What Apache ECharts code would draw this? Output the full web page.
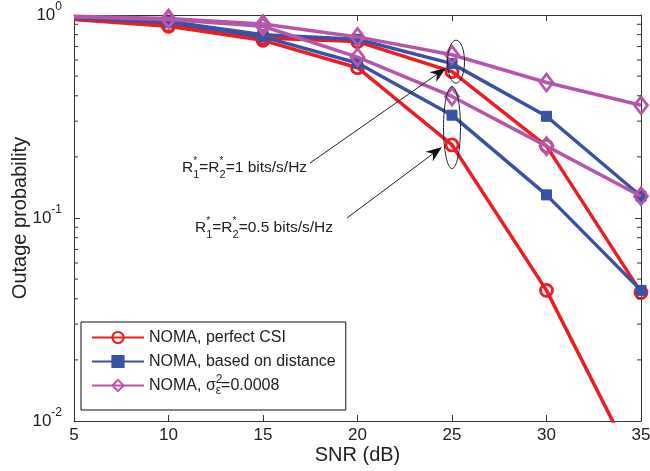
<!DOCTYPE html>
<html><head><meta charset="utf-8">
<script src="https://cdn.jsdelivr.net/npm/echarts@6/dist/echarts.min.js"></script>
<style>html,body{margin:0;padding:0;background:#fff}#c{width:650px;height:471px}</style>
</head><body><div id="c"></div>
<script>
// ---- data ----
const snr = [5, 10, 15, 20, 25, 30, 35];
const xTickInterval = 5;
const yDecadeLabels = { '1': '0', '0.1': '-1', '0.01': '-2' };
const minorTickVals = [0.02,0.03,0.04,0.05,0.06,0.07,0.08,0.09,0.2,0.3,0.4,0.5,0.6,0.7,0.8,0.9];
const legendNames = ['NOMA, perfect CSI', 'NOMA, based on distance', 'NOMA, sigma'];
// R1*=R2*=1 bits/s/Hz
const perfect_R1 = [0.955, 0.89, 0.77, 0.74, 0.526, 0.226, 0.043];
const distance_R1 = [0.975, 0.93, 0.80, 0.76, 0.576, 0.317, 0.128];
const sigma_R1 = [0.985, 0.96, 0.904, 0.78, 0.637, 0.465, 0.359];
// R1*=R2*=0.5 bits/s/Hz
const perfect_R05 = [0.95, 0.88, 0.75, 0.55, 0.229, 0.044, 0.0053];
const distance_R05 = [0.97, 0.92, 0.78, 0.58, 0.321, 0.13, 0.044];
const sigma_R05 = [0.98, 0.95, 0.88, 0.62, 0.397, 0.226, 0.128];

const RED = '#EC1C24', BLUE = '#3A52A3', PURPLE = '#B756A8';
const FONT = 'Liberation Sans, Arial, sans-serif';
const TXT = '#222';

function mk(name, vals, color, symbol, size, itemStyle, z) {
  return {
    type: 'line', name: name,
    data: snr.map((x, i) => i === 0 ? { value: [x, vals[i]], symbol: 'none' } : { value: [x, vals[i]] }),
    symbol: symbol, symbolSize: size, showAllSymbol: true,
    lineStyle: { color: color, width: 3.5 },
    itemStyle: itemStyle, z: z, clip: true, animation: false,
    emphasis: { disabled: true }
  };
}
const redStyle = { color: 'rgba(255,255,255,0)', borderColor: RED, borderWidth: 2.8 };
const blueStyle = { color: BLUE, borderColor: BLUE, borderWidth: 1 };
const purpleStyle = { color: 'rgba(255,255,255,0)', borderColor: PURPLE, borderWidth: 2.8 };

const chart = echarts.init(document.getElementById('c'), null, { renderer: 'canvas' });
const axisLine = { show: true, lineStyle: { color: '#333', width: 1 } };

const option = {
  animation: false,
  backgroundColor: '#fff',
  grid: { left: 74, right: 9, top: 15, bottom: 50, containLabel: false, outerBoundsMode: 'none' },
  xAxis: [{
    type: 'value', min: 5, max: 35, interval: xTickInterval,
    name: 'SNR (dB)', nameLocation: 'middle', nameGap: 24, nameMoveOverlap: false,
    nameTextStyle: { fontFamily: FONT, fontSize: 20, color: TXT },
    axisLine: axisLine, axisTick: { inside: true, length: 6, lineStyle: { color: '#333' } },
    axisLabel: { fontFamily: FONT, fontSize: 17, color: TXT, margin: 6 },
    splitLine: { show: false }
  }, {
    type: 'value', min: 5, max: 35, interval: xTickInterval, position: 'top',
    axisLine: axisLine, axisTick: { inside: true, length: 6, lineStyle: { color: '#333' } },
    axisLabel: { show: false }, splitLine: { show: false }
  }],
  yAxis: [{
    type: 'log', logBase: 10, min: 0.01, max: 1,
    name: 'Outage probability', nameLocation: 'middle', nameGap: 44, nameRotate: 90, nameMoveOverlap: false,
    nameTextStyle: { fontFamily: FONT, fontSize: 20, color: TXT },
    axisLine: axisLine, axisTick: { inside: true, length: 6, lineStyle: { color: '#333' } },
    axisLabel: {
      margin: 12, color: TXT,
      formatter: v => '{b|10}{s|' + yDecadeLabels[String(+v.toPrecision(3))] + '}',
      rich: {
        b: { fontFamily: FONT, fontSize: 17, color: TXT, lineHeight: 28 },
        s: { fontFamily: FONT, fontSize: 12, color: TXT, verticalAlign: 'top', lineHeight: 12 }
      }
    },
    splitLine: { show: false }
  }, {
    type: 'log', logBase: 10, min: 0.01, max: 1, position: 'right',
    axisLine: axisLine, axisTick: { inside: true, length: 6, lineStyle: { color: '#333' } },
    axisLabel: { show: false }, splitLine: { show: false }
  }],
  legend: {
    data: legendNames, orient: 'vertical', left: 81, top: 322,
    padding: [4, 10, 13, 10], itemGap: 1, itemWidth: 52, itemHeight: 14,
    borderColor: '#111', borderWidth: 1, backgroundColor: '#fff',
    selectedMode: false,
    formatter: n => n === 'NOMA, sigma' ? 'NOMA, σ{sp|2}{sb|ε}=0.0008' : n,
    textStyle: {
      fontFamily: FONT, fontSize: 16, color: TXT, lineHeight: 23,
      rich: {
        sp: { fontFamily: FONT, fontSize: 12, color: TXT, verticalAlign: 'top', lineHeight: 10, width: 0.001 },
        sb: { fontFamily: FONT, fontSize: 12, color: TXT, verticalAlign: 'bottom', lineHeight: 10, padding: [4, 0, 0, 0] }
      }
    }
  },
  series: [
    mk('NOMA, perfect CSI', perfect_R1, RED, 'circle', 12, redStyle, 3),
    mk('NOMA, perfect CSI', perfect_R05, RED, 'circle', 12, redStyle, 3),
    mk('NOMA, based on distance', distance_R1, BLUE, 'rect', 10, blueStyle, 4),
    mk('NOMA, based on distance', distance_R05, BLUE, 'rect', 10, blueStyle, 4),
    mk('NOMA, sigma', sigma_R1, PURPLE, 'diamond', [13, 17], purpleStyle, 5),
    mk('NOMA, sigma', sigma_R05, PURPLE, 'diamond', [13, 17], purpleStyle, 5),
    {
      type: 'custom', name: 'minor', silent: true, clip: false, z: 10,
      data: minorTickVals.map(v => [5, v]),
      renderItem: function (params, api) {
        const pl = api.coord([5, api.value(1)]);
        const pr = api.coord([35, api.value(1)]);
        const st = { stroke: '#333', lineWidth: 1 };
        return { type: 'group', children: [
          { type: 'line', shape: { x1: pl[0], y1: pl[1], x2: pl[0] + 4, y2: pl[1] }, style: st },
          { type: 'line', shape: { x1: pr[0] - 4, y1: pr[1], x2: pr[0], y2: pr[1] }, style: st }
        ] };
      }
    }
  ]
};
chart.setOption(option);

// ---- annotations (ellipses, arrows, labels) ----
const p25 = chart.convertToPixel({ xAxisIndex: 0, yAxisIndex: 0 }, [25, 0.589]);
const p25b = chart.convertToPixel({ xAxisIndex: 0, yAxisIndex: 0 }, [25, 0.279]);
function arrow(x1, y1, x2, y2) {
  const a = Math.atan2(y2 - y1, x2 - x1), L = 16, W = 6;
  const bx = x2 - L * Math.cos(a), by = y2 - L * Math.sin(a);
  const nx = -Math.sin(a), ny = Math.cos(a);
  const mx = x2 - L * 0.7 * Math.cos(a), my = y2 - L * 0.7 * Math.sin(a);
  return [
    { type: 'line', shape: { x1: x1, y1: y1, x2: mx, y2: my }, style: { stroke: '#222', lineWidth: 1 }, z: 20 },
    { type: 'polygon', shape: { points: [[x2, y2], [bx + nx * W, by + ny * W], [mx, my], [bx - nx * W, by - ny * W]] }, style: { fill: '#111' }, z: 20 }
  ];
}
const labelRich = {
  sp: { fontFamily: FONT, fontSize: 10, fill: TXT, verticalAlign: 'top', lineHeight: 10, width: 0.001 },
  sb: { fontFamily: FONT, fontSize: 11, fill: TXT, verticalAlign: 'bottom', lineHeight: 11 }
};
const elems = [
  { type: 'ellipse', shape: { cx: p25[0] + 4, cy: p25[1], rx: 8.5, ry: 21.5 }, style: { fill: 'none', stroke: '#222', lineWidth: 1 }, z: 20 },
  { type: 'ellipse', shape: { cx: p25b[0], cy: p25b[1], rx: 8.5, ry: 41 }, style: { fill: 'none', stroke: '#222', lineWidth: 1 }, z: 20 },
  ...arrow(310, 163, p25[0] - 6, 68),
  ...arrow(347, 218, p25b[0] - 10, 147),
  { type: 'text', x: 182, y: 168, z: 20, style: {
      text: 'R{sp|*}{sb|1}=R{sp|*}{sb|2}=1 bits/s/Hz', fontFamily: FONT, fontSize: 15.5, fill: TXT,
      lineHeight: 24, verticalAlign: 'middle', rich: labelRich } },
  { type: 'text', x: 195, y: 228, z: 20, style: {
      text: 'R{sp|*}{sb|1}=R{sp|*}{sb|2}=0.5 bits/s/Hz', fontFamily: FONT, fontSize: 15.5, fill: TXT,
      lineHeight: 24, verticalAlign: 'middle', rich: labelRich } }
];
chart.setOption({ graphic: { elements: elems } });
</script>
</body></html>
